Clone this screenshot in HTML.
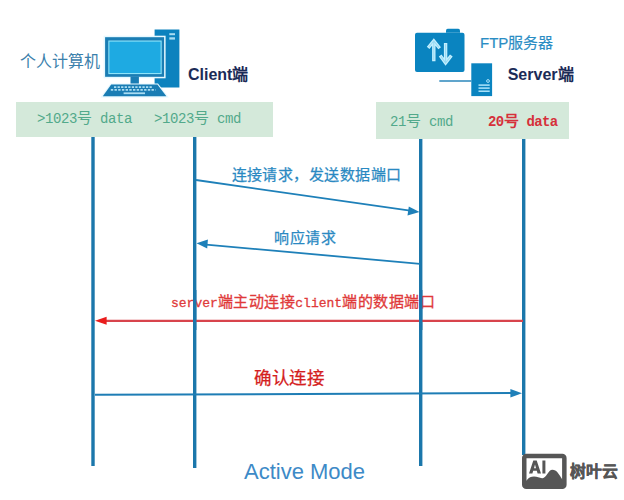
<!DOCTYPE html>
<html lang="zh-CN"><head><meta charset="utf-8">
<style>
html,body{margin:0;padding:0;background:#fff;}
body{width:624px;height:500px;position:relative;overflow:hidden;font-family:"Liberation Sans",sans-serif;}
.t{position:absolute;white-space:nowrap;line-height:1;}
.mono{font-family:"Liberation Mono",monospace;}
svg{position:absolute;left:0;top:0;}
</style></head>
<body>
<svg width="624" height="500" viewBox="0 0 624 500">
  <!-- green bands -->
  <rect x="16" y="102" width="257" height="35" fill="#d4e9da"/>
  <rect x="376" y="102" width="193" height="37" fill="#d4e9da"/>

  <!-- computer icon -->
  <g>
    <rect x="154.6" y="29.5" width="24.8" height="58" fill="#0c82be"/>
    <rect x="169.3" y="33.2" width="5.7" height="2" fill="#a9dcf2"/>
    <rect x="169.3" y="37.3" width="5.7" height="2.3" fill="#a9dcf2"/>
    <rect x="103.6" y="35.7" width="62" height="42.6" fill="#e6f8ff"/>
    <rect x="105.1" y="37.2" width="59" height="39.6" fill="#1a7db4"/>
    <rect x="108.3" y="40.5" width="53.4" height="33.6" fill="#8ee4fa"/>
    <rect x="109.4" y="41.6" width="51.2" height="31.4" fill="#1eaae2"/>
    <rect x="130.5" y="76.5" width="8.4" height="8.4" fill="#1a7db4"/>
    <path d="M111.2 84.6 L157.4 84.6 L166.4 96.3 L102.8 96.3 Z" fill="#1a7db4" stroke="#e6f8ff" stroke-width="2.4" paint-order="stroke"/>
    <g stroke="#a9dcf2" fill="none">
      <line x1="114" y1="87.05" x2="153" y2="87.05" stroke-width="1.7" stroke-dasharray="2.3 1.25"/>
      <line x1="110.8" y1="89.85" x2="155.6" y2="89.85" stroke-width="1.7" stroke-dasharray="2.4 1.3"/>
      <line x1="123.6" y1="93.25" x2="145" y2="93.25" stroke-width="1.8"/>
    </g>
  </g>

  <!-- server icon -->
  <g>
    <path d="M446 32.8 L446 30.5 Q446 28.8 447.7 28.8 L458.3 28.8 Q460 28.8 460 30.5 L460 32.8 Z" fill="#0a84c0"/>
    <rect x="415" y="32.8" width="49.5" height="39.2" rx="2" fill="#0a84c0"/>
    <g fill="none" stroke-linejoin="miter" stroke-linecap="square">
      <path d="M433.8 59.5 L433.8 42 M429.2 46.6 L433.8 41 L438.6 46.9" stroke="#c4f0ff" stroke-width="3.4"/>
      <path d="M433.8 59.5 L433.8 42 M429.2 46.6 L433.8 41 L438.6 46.9" stroke="#9ad9f2" stroke-width="1.1"/>
      <path d="M445.6 44.8 L445.6 62 M441.2 56.9 L445.6 62.9 L450.3 56.9" stroke="#c4f0ff" stroke-width="3.4"/>
      <path d="M445.6 44.8 L445.6 62 M441.2 56.9 L445.6 62.9 L450.3 56.9" stroke="#9ad9f2" stroke-width="1.1"/>
    </g>
    
    <rect x="439.3" y="80.2" width="32" height="1.6" fill="#3a8fc0"/>
    <rect x="471.3" y="63.3" width="20.8" height="32.8" fill="#0a84c0"/>
    <circle cx="488" cy="81" r="1.4" fill="none" stroke="#b9ecff" stroke-width="0.9"/>
    <g fill="#b9ecff">
      <rect x="478.5" y="84.4" width="11.2" height="1.4"/>
      <rect x="478.5" y="87.4" width="11.2" height="1.4"/>
      <rect x="478.5" y="90.5" width="11.2" height="1.4"/>
    </g>
  </g>

  <!-- vertical lines -->
  <g fill="#1b77ab">
    <rect x="91.3" y="137" width="3.4" height="329"/>
    <rect x="193" y="137" width="3.4" height="331"/>
    <rect x="419" y="139" width="3.4" height="327"/>
    <rect x="522" y="139" width="3.4" height="316"/>
  </g>
</svg>

<!-- header texts -->
<div class="t" style="left:20px;top:53.5px;font-size:16px;color:#3a80ab;">个人计算机</div>
<div class="t" style="left:188px;top:67px;font-size:16px;font-weight:bold;color:#1b2b57;">Client端</div>
<div class="t" style="left:480px;top:35px;font-size:15px;color:#2a8dc4;-webkit-text-stroke:0.2px #2a8dc4;">FTP服务器</div>
<div class="t" style="left:507.7px;top:67px;font-size:16px;font-weight:bold;color:#1b2b57;">Server端</div>

<!-- band texts -->
<div class="t" style="left:37px;top:110px;color:#52a98b;"><span class="mono" style="font-size:14px;letter-spacing:-0.4px">&gt;1023</span><span style="font-size:15px">号</span><span class="mono" style="font-size:14px;letter-spacing:-0.4px"> data</span></div>
<div class="t" style="left:154px;top:110px;color:#52a98b;"><span class="mono" style="font-size:14px;letter-spacing:-0.4px">&gt;1023</span><span style="font-size:15px">号</span><span class="mono" style="font-size:14px;letter-spacing:-0.4px"> cmd</span></div>
<div class="t" style="left:390px;top:113px;color:#52a98b;"><span class="mono" style="font-size:14px;letter-spacing:-0.4px">21</span><span style="font-size:15px">号</span><span class="mono" style="font-size:14px;letter-spacing:-0.4px"> cmd</span></div>
<div class="t" style="left:488px;top:113px;color:#d6303a;font-weight:bold;"><span class="mono" style="font-size:14px;letter-spacing:-0.6px">20</span><span style="font-size:15px">号</span><span class="mono" style="font-size:14px;letter-spacing:-0.6px"> data</span></div>

<!-- message texts -->
<div class="t" style="left:231.5px;top:166.7px;font-size:15px;letter-spacing:0.45px;color:#2a89c2;-webkit-text-stroke:0.25px #2a89c2;">连接请求，发送数据端口</div>
<div class="t" style="left:274px;top:230px;font-size:15px;letter-spacing:0.6px;color:#2a89c2;-webkit-text-stroke:0.25px #2a89c2;">响应请求</div>
<div class="t" style="left:171px;top:294px;color:#e03a3a;-webkit-text-stroke:0.3px #e03a3a;"><span class="mono" style="font-size:13px">server</span><span style="font-size:15px;letter-spacing:0.5px">端主动连接</span><span class="mono" style="font-size:13px">client</span><span style="font-size:15px;letter-spacing:0.5px">端的数据端口</span></div>
<div class="t" style="left:254px;top:370px;font-size:17.5px;letter-spacing:0.5px;color:#d42020;-webkit-text-stroke:0.25px #d42020;">确认连接</div>

<div class="t" style="left:244px;top:461.3px;font-size:22px;color:#3d8ac7;">Active Mode</div>

<svg width="624" height="500" viewBox="0 0 624 500">
  <!-- arrows -->
  <g stroke-width="2" fill="none">
    <line x1="196" y1="180" x2="410" y2="210.7" stroke="#1e80b9" stroke-width="1.8"/>
    <path d="M419.5 212 L407.5 215.5 L408.8 206.6 Z" fill="#1e80b9" stroke="none"/>
    <line x1="420" y1="263.8" x2="206" y2="244.6" stroke="#1e80b9" stroke-width="1.8"/>
    <path d="M196.5 243.2 L207.9 239.6 L207.2 248.4 Z" fill="#1e80b9" stroke="none"/>
    <line x1="523" y1="320.8" x2="104" y2="320.8" stroke="#d8444c" stroke-width="2.2"/>
    <path d="M95 320.8 L106.6 316.8 L106.6 324.8 Z" fill="#ea1c1c" stroke="none"/>
    <line x1="95" y1="394.8" x2="512" y2="393.1" stroke="#1e7db5"/>
    <path d="M522 393.2 L510.4 389.1 L510.4 397.4 Z" fill="#1e80b9" stroke="none"/>
  </g>
  <!-- redraw vertical lines on top of red arrow at crossings -->
  <g fill="#1b77ab">
    <rect x="193" y="290" width="3.4" height="40"/>
    <rect x="419" y="290" width="3.4" height="40"/>
  </g>
  <!-- logo -->
  <g>
    <rect x="524.25" y="456.05" width="40.1" height="30.7" rx="2" fill="none" stroke="#565656" stroke-width="4.5"/>
    <path d="M525.5 481 L526.5 480.5 C529 477.5 531 476.6 534 476.6 C537.5 476.6 539.5 478.4 542.5 478.2 C546.5 478 548 469.7 552.5 469.7 C556.5 469.7 559 474 562 479 L564 481 L564 488 L525.5 488 Z" fill="#565656"/>
    <path d="M529 473.5 L533.3 460.5 L536.7 460.5 L541 473.5 L537.6 473.5 L536.8 470.8 L533.2 470.8 L532.4 473.5 Z M534 468.2 L536 468.2 L535 464.6 Z" fill="#565656" fill-rule="evenodd"/>
    <rect x="542.4" y="460.5" width="3" height="13" fill="#565656"/>
  </g>
</svg>
<div class="t" style="left:569.5px;top:463.8px;font-size:15.8px;font-weight:bold;color:#565656;-webkit-text-stroke:0.4px #565656;">树叶云</div>
</body></html>
